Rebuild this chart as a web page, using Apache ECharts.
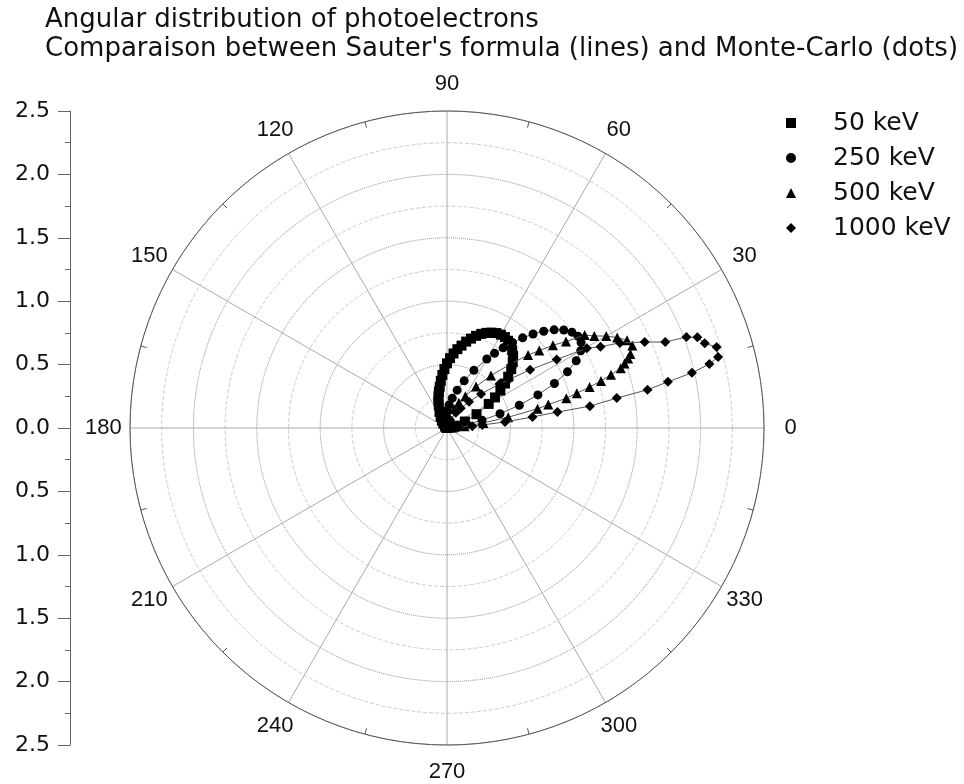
<!DOCTYPE html>
<html>
<head>
<meta charset="UTF-8">
<title>Angular distribution of photoelectrons</title>
<script src="https://cdn.jsdelivr.net/npm/echarts@6.0.0/dist/echarts.min.js"></script>
<style>
  html, body { margin: 0; padding: 0; background: #fff; }
  #chart { width: 964px; height: 784px; }
</style>
</head>
<body>
<div id="chart"></div>
<script>
// series names and marker shapes
var energies = ['50 keV', '250 keV', '500 keV', '1000 keV'];
var markers = ['rect', 'circle', 'triangle', 'diamond'];

// polar angle (deg) / radius, one pair of lists per energy
var theta50 = [0, 5, 10, 15, 20, 25, 30, 32.5, 35, 37.5, 40, 42.5, 45, 47.5, 50, 52.5, 55, 57.5, 60, 62.5, 65, 67.5, 70, 72.5, 75, 77.5, 80, 82.5, 85, 87.5, 90, 92.5, 95, 97.5, 100, 102.5, 105, 107.5, 110, 115, 120, 125, 130, 140, 150, 160, 180];
var r50 = [0, 0.003, 0.022, 0.07, 0.15, 0.257, 0.38, 0.449, 0.514, 0.576, 0.63, 0.687, 0.733, 0.772, 0.80, 0.827, 0.84, 0.85, 0.85, 0.844, 0.83, 0.812, 0.79, 0.762, 0.73, 0.698, 0.66, 0.627, 0.59, 0.551, 0.51, 0.465, 0.42, 0.375, 0.33, 0.295, 0.26, 0.225, 0.19, 0.14, 0.10, 0.07, 0.045, 0.02, 0.008, 0.003, 0];

var theta250 = [0, 5, 10, 12.5, 15, 17.5, 20, 22.5, 25, 27.5, 30, 32.5, 35, 37.5, 40, 42.5, 45, 47.5, 50, 52.5, 55, 57.5, 60, 65, 70, 75, 80, 85, 90, 95, 100, 105, 110, 115, 120, 130, 150, 180];
var r250 = [0, 0.023, 0.16, 0.283, 0.433, 0.598, 0.763, 0.917, 1.048, 1.149, 1.218, 1.254, 1.261, 1.242, 1.202, 1.146, 1.079, 1.005, 0.928, 0.849, 0.772, 0.698, 0.628, 0.502, 0.396, 0.309, 0.239, 0.183, 0.14, 0.106, 0.08, 0.06, 0.044, 0.033, 0.024, 0.012, 0.003, 0];

var theta500 = [0, 4, 6, 8, 10, 12, 13, 14, 15, 16, 17, 18, 19, 20, 21, 22, 24, 26, 28, 30, 32, 34, 36, 38, 40, 42, 45, 50, 55, 60, 65, 70, 80, 90, 110, 180];
var r500 = [0, 0.045, 0.14, 0.29, 0.49, 0.73, 0.82, 0.97, 1.06, 1.17, 1.27, 1.36, 1.45, 1.49, 1.53, 1.56, 1.60, 1.58, 1.52, 1.45, 1.37, 1.31, 1.16, 1.06, 0.95, 0.86, 0.72, 0.54, 0.40, 0.29, 0.22, 0.16, 0.086, 0.047, 0.014, 0];

var theta1000 = [0, 2, 3, 4, 4.9, 5.9, 7.4, 8.2, 8.7, 10, 10.8, 11.8, 12.7, 13.7, 14.7, 16.7, 18.2, 19.9, 20.8, 21.5, 23.5, 26.2, 27.9, 29.7, 32, 35, 38, 40, 45, 50, 55, 60, 70, 80, 90, 180];
var r1000 = [0, 0.03, 0.09, 0.2, 0.28, 0.46, 0.68, 0.88, 1.14, 1.36, 1.61, 1.78, 1.98, 2.13, 2.21, 2.22, 2.14, 2.1, 2.02, 1.85, 1.70, 1.52, 1.37, 1.27, 1.02, 0.80, 0.62, 0.54, 0.38, 0.27, 0.19, 0.14, 0.07, 0.04, 0.02, 0];

// ticks of the left scale and of the angle axis
var leftTicks = [2.5, 2.0, 1.5, 1.0, 0.5, 0.0, 0.5, 1.0, 1.5, 2.0, 2.5];
var angleTicks = [0, 30, 60, 90, 120, 150, 180, 210, 240, 270, 300, 330];

var thetas = [theta50, theta250, theta500, theta1000];
var radii = [r50, r250, r500, r1000];
var markerSize = [10, 9, 10, 10];

var font = '"Liberation Sans", Arial, sans-serif';
var wide = '"DejaVu Sans", sans-serif';
var ink = '#111';
var labelR = 2.71; // angle labels sit just outside the 2.5 circle

function toPolar(th, r) {
  var out = [];
  for (var i = 0; i < th.length; i++) out.push([r[i], th[i]]);
  return out;
}

var chart = echarts.init(document.getElementById('chart'));

var series = energies.map(function (name, i) {
  return {
    name: name,
    type: 'line',
    coordinateSystem: 'polar',
    data: toPolar(thetas[i], radii[i]),
    symbol: markers[i],
    symbolSize: markerSize[i],
    showSymbol: true,
    lineStyle: { color: '#555', width: 1 },
    itemStyle: { color: '#000' },
    z: 5 + i
  };
});

// angle tick labels, centred on their rays
series.push({
  type: 'scatter',
  coordinateSystem: 'polar',
  silent: true,
  clip: false,
  symbol: 'circle',
  symbolSize: 1,
  itemStyle: { color: 'rgba(0,0,0,0)', opacity: 1 },
  data: angleTicks.map(function (a) { return [labelR, a]; }),
  label: {
    show: true,
    position: 'inside',
    fontFamily: font,
    fontSize: 22,
    color: ink,
    formatter: function (p) { return String(p.value[1]); }
  },
  z: 20
});

var option = {
  animation: false,
  backgroundColor: '#fff',
  title: [
    {
      text: 'Angular distribution of photoelectrons',
      left: 40,
      top: 2,
      textStyle: { fontFamily: wide, fontSize: 26, fontWeight: 'normal', color: ink }
    },
    {
      text: 'Comparaison between Sauter\'s formula (lines) and Monte-Carlo (dots)',
      left: 40,
      top: 31,
      textStyle: { fontFamily: wide, fontSize: 26, fontWeight: 'normal', color: ink }
    }
  ],
  legend: {
    orient: 'vertical',
    left: 781,
    top: 105,
    itemWidth: 10,
    itemHeight: 10,
    itemGap: 9,
    selectedMode: false,
    data: energies.map(function (n, i) { return { name: n, icon: markers[i] }; }),
    itemStyle: { color: '#000' },
    textStyle: { fontFamily: wide, fontSize: 25, color: ink, padding: [0, 0, 0, 32], lineHeight: 26 }
  },
  polar: { center: [447, 428], radius: 317 },
  angleAxis: {
    type: 'value',
    min: 0,
    max: 360,
    interval: 30,
    startAngle: 0,
    clockwise: false,
    axisLine: { lineStyle: { color: '#555', width: 1 } },
    axisTick: { show: false, inside: true },
    minorTick: { show: true, splitNumber: 2, length: 6, lineStyle: { color: '#555' } },
    axisLabel: { show: false },
    splitLine: { show: true, lineStyle: { color: '#aaa', width: 1 } }
  },
  radiusAxis: {
    type: 'value',
    min: 0,
    max: 2.5,
    interval: 0.5,
    axisLine: { show: false },
    axisTick: { show: false },
    axisLabel: { show: false },
    minorTick: { show: false, splitNumber: 2 },
    splitLine: { show: true, lineStyle: { color: '#888', type: 'dotted', width: 1 } },
    minorSplitLine: { show: true, lineStyle: { color: '#ccc', type: 'dashed', width: 1 } }
  },
  grid: { left: 70, top: 111, width: 10, height: 634 },
  xAxis: { type: 'value', show: false, min: 0, max: 1 },
  yAxis: {
    type: 'value',
    min: -2.5,
    max: 2.5,
    interval: 0.5,
    axisLine: { show: true, lineStyle: { color: '#666' } },
    axisTick: { show: true, length: 12, lineStyle: { color: '#666' } },
    minorTick: { show: true, splitNumber: 2, length: 5, lineStyle: { color: '#666' } },
    splitLine: { show: false },
    axisLabel: {
      margin: 20,
      fontFamily: wide,
      fontSize: 22,
      color: ink,
      formatter: function (v) {
        var idx = Math.round((2.5 - v) / 0.5);
        return leftTicks[idx].toFixed(1);
      }
    }
  },
  series: series
};

chart.setOption(option);
</script>
</body>
</html>
